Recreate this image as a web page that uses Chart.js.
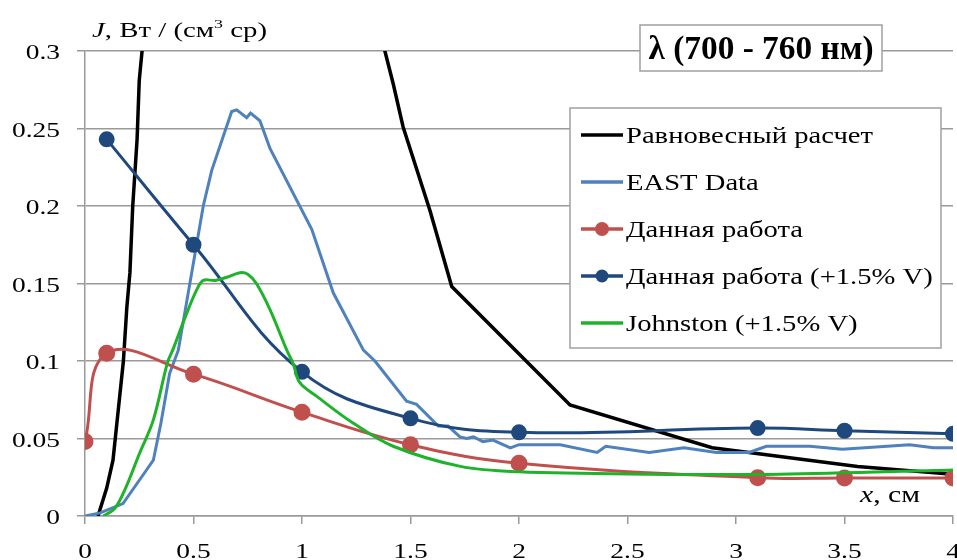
<!DOCTYPE html>
<html>
<head>
<meta charset="utf-8">
<script src="https://cdn.jsdelivr.net/npm/chart.js@4.4.1/dist/chart.umd.min.js"></script>
<style>
  html, body { margin: 0; padding: 0; background: #fff; }
  #wrap { width: 957px; height: 560px; }
</style>
</head>
<body>
<div id="wrap"><canvas id="c" width="957" height="560"></canvas></div>
<script>
// ── data ──
const xTicks = [0, 0.5, 1, 1.5, 2, 2.5, 3, 3.5, 4];
const yTicks = [0, 0.05, 0.1, 0.15, 0.2, 0.25, 0.3];

// Равновесный расчет (goes off the top of the plot between ~0.27 and ~1.38)
const xEq = [0.06, 0.1, 0.129, 0.153, 0.177, 0.193, 0.207, 0.22, 0.24, 0.25, 0.263, 0.3, 1.3, 1.382, 1.42, 1.466, 1.59, 1.69, 2.235, 2.89, 3.56, 4.0];
const yEq = [0, 0.018, 0.036, 0.068, 0.1, 0.135, 0.157, 0.2, 0.243, 0.281, 0.3, 0.42, 0.36, 0.3, 0.279, 0.251, 0.197, 0.148, 0.0716, 0.044, 0.032, 0.027];

// EAST Data
const xEast = [0, 0.07, 0.175, 0.285, 0.315, 0.35, 0.39, 0.43, 0.545, 0.584, 0.676, 0.699, 0.745, 0.763, 0.806, 0.853, 1.045, 1.144, 1.283, 1.336, 1.482, 1.528, 1.628, 1.673, 1.728, 1.76, 1.79, 1.834, 1.88, 1.96, 2.0, 2.1, 2.19, 2.36, 2.4, 2.6, 2.76, 2.91, 3.06, 3.14, 3.34, 3.49, 3.8, 3.91, 4.0];
const yEast = [0, 0.002, 0.008, 0.03, 0.036, 0.06, 0.092, 0.107, 0.2, 0.223, 0.261, 0.262, 0.257, 0.26, 0.255, 0.237, 0.185, 0.144, 0.107, 0.1, 0.074, 0.072, 0.058, 0.058, 0.051, 0.05, 0.051, 0.048, 0.049, 0.044, 0.046, 0.046, 0.046, 0.041, 0.045, 0.041, 0.044, 0.041, 0.041, 0.045, 0.045, 0.043, 0.046, 0.044, 0.044];

// Данная работа
const xWork = [0, 0.1, 0.5, 1, 1.5, 2, 3.1, 3.5, 4];
const yWork = [0.048, 0.105, 0.0915, 0.067, 0.046, 0.034, 0.0247, 0.0245, 0.0245];

// Данная работа (+1.5% V)
const xWorkV = [0.1, 0.5, 1, 1.5, 2, 3.1, 3.5, 4];
const yWorkV = [0.243, 0.175, 0.093, 0.063, 0.054, 0.0567, 0.055, 0.053];

// Johnston (+1.5% V)
const xJohn = [0.085, 0.138, 0.19, 0.25, 0.315, 0.38, 0.407, 0.461, 0.515, 0.545, 0.6, 0.653, 0.714, 0.75, 0.79, 0.853, 0.93, 0.96, 0.99, 1.07, 1.235, 1.42, 1.73, 2.0, 2.6, 3.2, 4.0];
const yJohn = [0, 0.005, 0.019, 0.04, 0.062, 0.099, 0.108, 0.128, 0.146, 0.152, 0.152, 0.154, 0.157, 0.156, 0.15, 0.133, 0.107, 0.098, 0.086, 0.077, 0.06, 0.045, 0.032, 0.0285, 0.027, 0.027, 0.0297];

const pts = (xs, ys) => xs.map((x, i) => ({ x, y: ys[i] }));

const GRID = '#9a9a9a';
const SERIF = "'Liberation Serif','Times New Roman',serif";

// text squeezed/stretched sideways (the original picture is stretched horizontally)
function drawText(cx, txt, x, y, font, sx, align) {
  cx.save();
  cx.font = font;
  cx.translate(x, y);
  cx.scale(sx, 1);
  cx.textAlign = align || 'left';
  cx.textBaseline = 'alphabetic';
  cx.fillText(txt, 0, 0);
  cx.restore();
}

// run of mixed-font pieces [text, font, dy], fitted to a total width
function drawRun(cx, parts, x, y, width) {
  let w = 0;
  parts.forEach(p => { cx.font = p[1]; w += cx.measureText(p[0]).width; });
  const sx = width / w;
  let px = x;
  parts.forEach(p => {
    cx.font = p[1];
    drawText(cx, p[0], px, y + (p[2] || 0), p[1], sx, 'left');
    px += cx.measureText(p[0]).width * sx;
  });
}

const decor = {
  id: 'decor',
  afterDraw(chart) {
    const { ctx: cx, scales: { x, y } } = chart;
    cx.save();
    cx.fillStyle = '#000';

    // tick labels
    const tFont = '22px ' + SERIF;
    cx.font = tFont;
    const tsx = 48 / cx.measureText('0.05').width;
    yTicks.forEach(v => {
      drawText(cx, String(+v.toFixed(2)), 60, y.getPixelForValue(v) + 8, tFont, tsx, 'right');
    });
    xTicks.forEach(v => {
      drawText(cx, String(v), x.getPixelForValue(v), 558, tFont, tsx, 'center');
    });

    // axis titles
    const aFont = '21px ' + SERIF, aIt = 'italic 21px ' + SERIF, aSup = '13px ' + SERIF;
    drawRun(cx, [['J', aIt], [', Вт / (см', aFont], ['3', aSup, -9], [' ср)', aFont]], 92, 37, 175);
    const bFont = '24px ' + SERIF, bIt = 'italic 24px ' + SERIF;
    drawRun(cx, [['x', bIt], [', см', bFont]], 860, 502, 60);

    // title box
    cx.fillStyle = '#fff';
    cx.fillRect(640, 25, 242, 46);
    cx.strokeStyle = '#a0a0a0'; cx.lineWidth = 1.5;
    cx.strokeRect(640, 25, 242, 46);
    cx.fillStyle = '#000';
    const tiFont = 'bold 33px ' + SERIF;
    cx.font = tiFont;
    const title = 'λ (700 - 760 нм)';
    drawText(cx, title, 761, 59, tiFont, 225 / cx.measureText(title).width, 'center');

    // legend box
    cx.fillStyle = '#fff';
    cx.fillRect(570, 108, 371, 240);
    cx.strokeRect(570, 108, 371, 240);
    const lFont = '24px ' + SERIF;
    cx.font = lFont;
    const lsx = 247 / cx.measureText(chart.data.datasets[0].label).width;
    chart.data.datasets.forEach((ds, i) => {
      const ly = 135 + i * 47;
      cx.strokeStyle = ds.borderColor; cx.lineWidth = 3.5; cx.lineCap = 'butt';
      cx.beginPath(); cx.moveTo(581, ly); cx.lineTo(623, ly); cx.stroke();
      if (ds.pointRadius > 0) {
        cx.fillStyle = ds.pointBackgroundColor;
        cx.beginPath(); cx.arc(602, ly, ds.pointRadius, 0, Math.PI * 2); cx.fill();
      }
      cx.fillStyle = '#000';
      drawText(cx, ds.label, 626, ly + 8, lFont, lsx, 'left');
    });
    cx.restore();
  }
};

const line = (label, data, color, extra) => Object.assign({
  label, data, borderColor: color, backgroundColor: color,
  pointBackgroundColor: color, pointBorderColor: color,
  borderWidth: 3, pointRadius: 0, pointHoverRadius: 0, tension: 0, fill: false
}, extra);

new Chart(document.getElementById('c').getContext('2d'), {
  type: 'line',
  data: {
    datasets: [
      line('Равновесный расчет', pts(xEq, yEq), '#000000', { order: 5, borderWidth: 3.5 }),
      line('EAST Data', pts(xEast, yEast), '#4f81bd', { order: 4 }),
      line('Данная работа', pts(xWork, yWork), '#c0504d', { order: 3, pointRadius: 7, tension: 0.4 }),
      line('Данная работа (+1.5% V)', pts(xWorkV, yWorkV), '#1f497d', { order: 2, pointRadius: 6.5, tension: 0.4 }),
      line('Johnston (+1.5% V)', pts(xJohn, yJohn), '#1fb32b', { order: 1, tension: 0.35 })
    ]
  },
  options: {
    responsive: false, animation: false,
    layout: { autoPadding: false, padding: { left: 0, right: 4, top: 51, bottom: 0 } },
    plugins: { legend: { display: false }, tooltip: { enabled: false } },
    scales: {
      x: {
        type: 'linear', min: 0, max: 4,
        afterBuildTicks: s => { s.ticks = xTicks.map(v => ({ value: v })); },
        afterFit: s => { s.height = 44; s.paddingLeft = 0; s.paddingRight = 0; },
        ticks: { color: 'rgba(0,0,0,0)', font: { size: 8 }, padding: 0 },
        grid: { drawOnChartArea: false, tickLength: 8, color: GRID, lineWidth: 1.5 },
        border: { color: GRID, width: 1.5 }
      },
      y: {
        min: 0, max: 0.3,
        afterBuildTicks: s => { s.ticks = yTicks.map(v => ({ value: v })); },
        afterFit: s => { s.width = 85; s.paddingTop = 0; s.paddingBottom = 0; },
        ticks: { color: 'rgba(0,0,0,0)', font: { size: 8 }, padding: 0 },
        grid: { tickLength: 8, color: GRID, lineWidth: 1.5 },
        border: { color: GRID, width: 1.5 }
      }
    }
  },
  plugins: [decor]
});
</script>
</body>
</html>
